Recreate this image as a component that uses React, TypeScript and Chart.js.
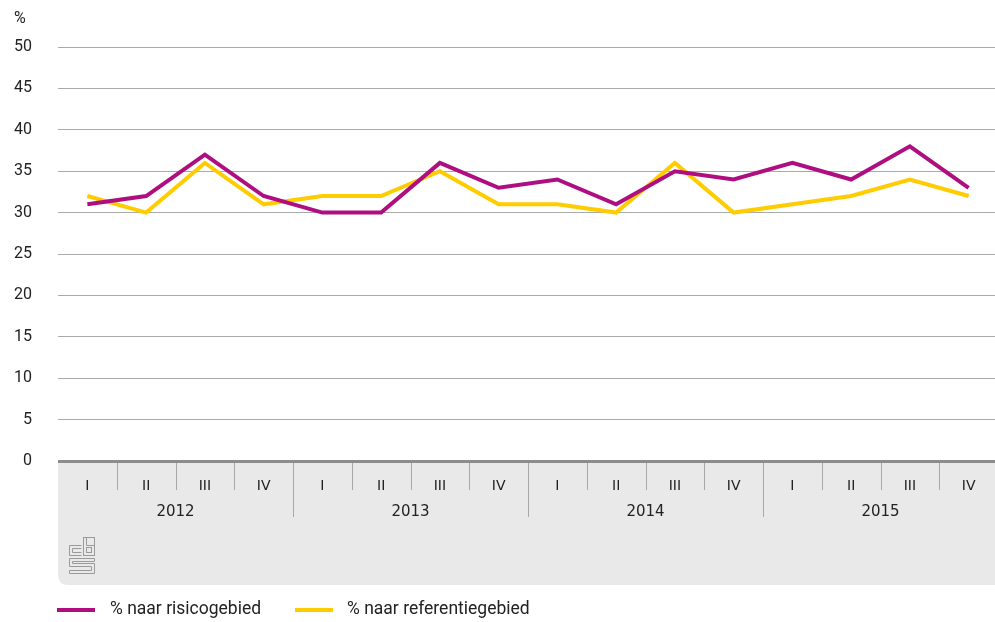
import React, { useEffect, useRef } from "react";
import { Chart, registerables } from "chart.js";

Chart.register(...registerables);

const quarters = ["I", "II", "III", "IV", "I", "II", "III", "IV", "I", "II", "III", "IV", "I", "II", "III", "IV"];
const years = ["2012", "2013", "2014", "2015"];
const risico = [31, 32, 37, 32, 30, 30, 36, 33, 34, 31, 35, 34, 36, 34, 38, 33];
const referentie = [32, 30, 36, 31, 32, 32, 35, 31, 31, 30, 36, 30, 31, 32, 34, 32];
const seriesNames = ["% naar risicogebied", "% naar referentiegebied"];
const seriesColors = ["#AF0E80", "#FFCC00"];

const FONT = "Roboto, 'DejaVu Sans', sans-serif";

const decorPlugin = {
  id: "decor",
  beforeDraw(chart: any) {
    const ctx = chart.ctx;
    const area = chart.chartArea;
    const xs = chart.scales.x;
    const right = chart.width;
    const boxTop = area.bottom;
    const boxBottom = xs.bottom;
    ctx.save();
    const r = 10;
    ctx.fillStyle = "#e9e9e9";
    ctx.beginPath();
    ctx.moveTo(area.left, boxTop);
    ctx.lineTo(right, boxTop);
    ctx.lineTo(right, boxBottom);
    ctx.lineTo(area.left + r, boxBottom);
    ctx.quadraticCurveTo(area.left, boxBottom, area.left, boxBottom - r);
    ctx.closePath();
    ctx.fill();
    const step = (area.right - area.left) / quarters.length;
    ctx.strokeStyle = "#a8a8a8";
    ctx.lineWidth = 1;
    for (let i = 1; i < quarters.length; i++) {
      const x = Math.round(xs.getPixelForValue(i) - step / 2) + 0.5;
      const isYear = i % 4 === 0;
      ctx.beginPath();
      ctx.moveTo(x, boxTop);
      ctx.lineTo(x, boxTop + (isYear ? 56 : 29));
      ctx.stroke();
    }
    ctx.fillStyle = "#222";
    ctx.font = "14px 'DejaVu Sans', sans-serif";
    ctx.textAlign = "center";
    ctx.textBaseline = "middle";
    quarters.forEach((q, i) => {
      ctx.fillText(q, xs.getPixelForValue(i), boxTop + 25);
    });
    ctx.font = "15px 'DejaVu Sans', sans-serif";
    years.forEach((y, k) => {
      const x = (xs.getPixelForValue(k * 4 + 1) + xs.getPixelForValue(k * 4 + 2)) / 2;
      ctx.fillText(y, x, boxTop + 51);
    });
    const lx = 69, ly = 537;
    ctx.strokeStyle = "#9a9a9a";
    ctx.lineWidth = 1;
    const s = (x1: number, y1: number, w: number, h: number) => ctx.strokeRect(lx + x1 + 0.5, ly + y1 + 0.5, w, h);
    ctx.beginPath();
    ctx.moveTo(lx + 12.5, ly + 8.5);
    ctx.lineTo(lx + 0.5, ly + 8.5);
    ctx.lineTo(lx + 0.5, ly + 18.5);
    ctx.lineTo(lx + 12.5, ly + 18.5);
    ctx.moveTo(lx + 12.5, ly + 11.5);
    ctx.lineTo(lx + 3.5, ly + 11.5);
    ctx.lineTo(lx + 3.5, ly + 15.5);
    ctx.lineTo(lx + 12.5, ly + 15.5);
    ctx.stroke();
    s(14, 0, 11, 18);
    s(17, 10, 5, 5);
    ctx.beginPath();
    ctx.moveTo(lx + 17.5, ly + 0.5);
    ctx.lineTo(lx + 17.5, ly + 8.5);
    ctx.lineTo(lx + 25.5, ly + 8.5);
    ctx.stroke();
    ctx.beginPath();
    ctx.moveTo(lx + 25.5, ly + 21.5);
    ctx.lineTo(lx + 0.5, ly + 21.5);
    ctx.lineTo(lx + 0.5, ly + 29.5);
    ctx.lineTo(lx + 22.5, ly + 29.5);
    ctx.lineTo(lx + 22.5, ly + 33.5);
    ctx.lineTo(lx + 0.5, ly + 33.5);
    ctx.lineTo(lx + 0.5, ly + 36.5);
    ctx.lineTo(lx + 25.5, ly + 36.5);
    ctx.lineTo(lx + 25.5, ly + 26.5);
    ctx.lineTo(lx + 3.5, ly + 26.5);
    ctx.lineTo(lx + 3.5, ly + 24.5);
    ctx.lineTo(lx + 25.5, ly + 24.5);
    ctx.closePath();
    ctx.stroke();
    ctx.restore();
  },
  afterDraw(chart: any) {
    const ctx = chart.ctx;
    const area = chart.chartArea;
    ctx.save();
    ctx.fillStyle = "#8c8c8c";
    ctx.fillRect(area.left, area.bottom - 1, chart.width - area.left, 3);
    ctx.fillStyle = "#222";
    ctx.font = "16px " + FONT;
    ctx.textAlign = "left";
    ctx.textBaseline = "middle";
    ctx.fillText("%", 14, 19);
    const ly = 610;
    const items = [
      { x: 57, tx: 110 },
      { x: 295, tx: 347 },
    ];
    chart.data.datasets.forEach((ds: any, i: number) => {
      const it = items[i];
      ctx.fillStyle = ds.borderColor;
      ctx.fillRect(it.x, ly - 2, 38, 4);
      ctx.fillStyle = "#222";
      ctx.font = "17.5px " + FONT;
      ctx.fillText(ds.label, it.tx, ly);
    });
    ctx.restore();
  },
};

export default function App() {
  const ref = useRef<HTMLCanvasElement>(null);
  useEffect(() => {
    const chart = new Chart(ref.current!, {
      type: "line",
      data: {
        labels: quarters,
        datasets: [
          { label: seriesNames[0], data: risico, borderColor: seriesColors[0], backgroundColor: seriesColors[0], borderWidth: 4, pointRadius: 0, tension: 0, borderJoinStyle: "miter" },
          { label: seriesNames[1], data: referentie, borderColor: seriesColors[1], backgroundColor: seriesColors[1], borderWidth: 4, pointRadius: 0, tension: 0, borderJoinStyle: "miter" },
        ],
      },
      options: {
        animation: false,
        responsive: false,
        maintainAspectRatio: false,
        layout: { padding: { left: 0, right: 0, top: 47, bottom: 37 } },
        plugins: { legend: { display: false }, tooltip: { enabled: false } },
        scales: {
          x: {
            offset: true,
            grid: { display: false },
            border: { display: false },
            ticks: { display: false },
            afterFit: (s: any) => { s.height = 124; },
          },
          y: {
            min: 0,
            max: 50,
            ticks: { stepSize: 5, padding: 26, color: "#222", font: { family: FONT, size: 16 } },
            grid: { color: "#aaaaaa", drawTicks: false, lineWidth: 1 },
            border: { display: false },
            afterFit: (s: any) => { s.width = 58; },
          },
        },
      },
      plugins: [decorPlugin],
    });
    return () => chart.destroy();
  }, []);
  return (
    <div style={{ position: "fixed", left: 0, top: 0, width: 995, height: 622, overflow: "hidden", background: "#fff" }}>
      <canvas ref={ref} width={998} height={622} style={{ display: "block" }} />
    </div>
  );
}
